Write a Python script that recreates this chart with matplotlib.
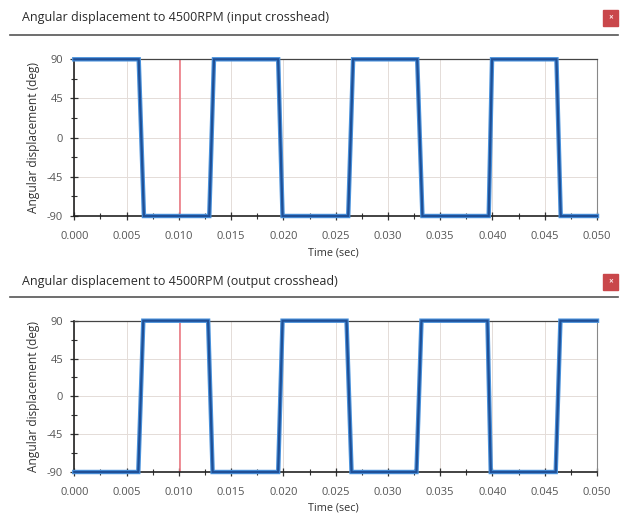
import matplotlib
matplotlib.use('Agg')
import matplotlib.pyplot as plt
from matplotlib.patches import Rectangle
from matplotlib.ticker import MultipleLocator, FormatStrFormatter

# Datos
titulos = ['Angular displacement to 4500RPM (input crosshead)',
           'Angular displacement to 4500RPM (output crosshead)']

t_entrada = [0.0, 0.00616, 0.00666, 0.01291, 0.01336, 0.0195, 0.01992, 0.0262,
             0.02667, 0.0328, 0.0333, 0.03964, 0.03996, 0.04612, 0.04653, 0.050]
ang_entrada = [90, 90, -90, -90, 90, 90, -90, -90, 90, 90, -90, -90, 90, 90, -90, -90]

t_salida = [0.0, 0.00612, 0.0066, 0.0128, 0.01323, 0.0195, 0.01992, 0.02604,
            0.02652, 0.03273, 0.03321, 0.03952, 0.03984, 0.04605, 0.0465, 0.050]
ang_salida = [-90, -90, 90, 90, -90, -90, 90, 90, -90, -90, 90, 90, -90, -90, 90, 90]

cursor = 0.0101
y_ticks = [-90, -45, 0, 45, 90]

plt.rcParams['font.family'] = ['Open Sans', 'DejaVu Sans']
plt.rcParams['axes.unicode_minus'] = False

fig = plt.figure(figsize=(6.24, 5.15), dpi=100)
W, H = 624.0, 515.0

paneles = [
    (titulos[0], t_entrada, ang_entrada, 18, 35, 59.3, 216.0, 253),
    (titulos[1], t_salida, ang_salida, 282, 297, 320.7, 472.0, 508),
]

for titulo, t, a, y_tit, y_sep, y_top, y_bot, y_xl in paneles:
    # cabecera de la ventana
    fig.text(22 / W, 1 - y_tit / H, titulo, fontsize=9, color='#2a2a2a', va='center', ha='left')
    fig.add_artist(plt.Line2D([10 / W, 618 / W], [1 - y_sep / H] * 2, color='#555555', lw=1.2))
    fig.add_artist(Rectangle((603 / W, 1 - (y_tit + 8) / H), 15 / W, 16 / H,
                             transform=fig.transFigure, color='#c9474b'))
    fig.text(610.5 / W, 1 - y_tit / H, '×', fontsize=6, color='#fbe3e4', ha='center', va='center',
             fontweight='bold')

    ax = fig.add_axes([74.3 / W, 1 - y_bot / H, (597 - 74.3) / W, (y_bot - y_top) / H])
    ax.set_xlim(0, 0.050)
    ax.set_ylim(-90, 90)
    ax.xaxis.set_major_locator(MultipleLocator(0.005))
    ax.xaxis.set_minor_locator(MultipleLocator(0.0025))
    ax.xaxis.set_major_formatter(FormatStrFormatter('%.3f'))
    ax.set_yticks(y_ticks)
    ax.yaxis.set_minor_locator(MultipleLocator(22.5))
    ax.tick_params(which='major', direction='inout', length=6, width=0.9, labelsize=8,
                   labelcolor='#555555', color='#333333')
    ax.tick_params(axis='x', which='major', pad=8)
    ax.tick_params(axis='y', which='major', pad=5)
    ax.tick_params(which='minor', direction='inout', length=4, width=0.8, color='#333333')
    ax.grid(True, which='major', color='#e4dcd8', lw=0.7)
    for lado in ['left', 'bottom']:
        ax.spines[lado].set_color('#222222')
        ax.spines[lado].set_linewidth(1.2)
    ax.spines['top'].set_color('#444444')
    ax.spines['right'].set_color('#888888')
    ax.spines['top'].set_linewidth(0.9)
    ax.spines['right'].set_linewidth(0.8)

    ax.axvline(cursor, color='#ec7a84', lw=1.2, zorder=2)
    ax.plot(t, a, color='#4a92dc', lw=3.2, clip_on=False, zorder=3, solid_joinstyle='miter')
    ax.plot(t, a, color='#1f4f96', lw=1.6, clip_on=False, zorder=4, solid_joinstyle='miter')

    ax.set_ylabel('Angular displacement (deg)', fontsize=8.6, color='#333333', labelpad=5)
    fig.text(333 / W, 1 - y_xl / H, 'Time (sec)', fontsize=7.8, color='#333333', ha='center', va='center')

fig.savefig('out.png', dpi=100)
